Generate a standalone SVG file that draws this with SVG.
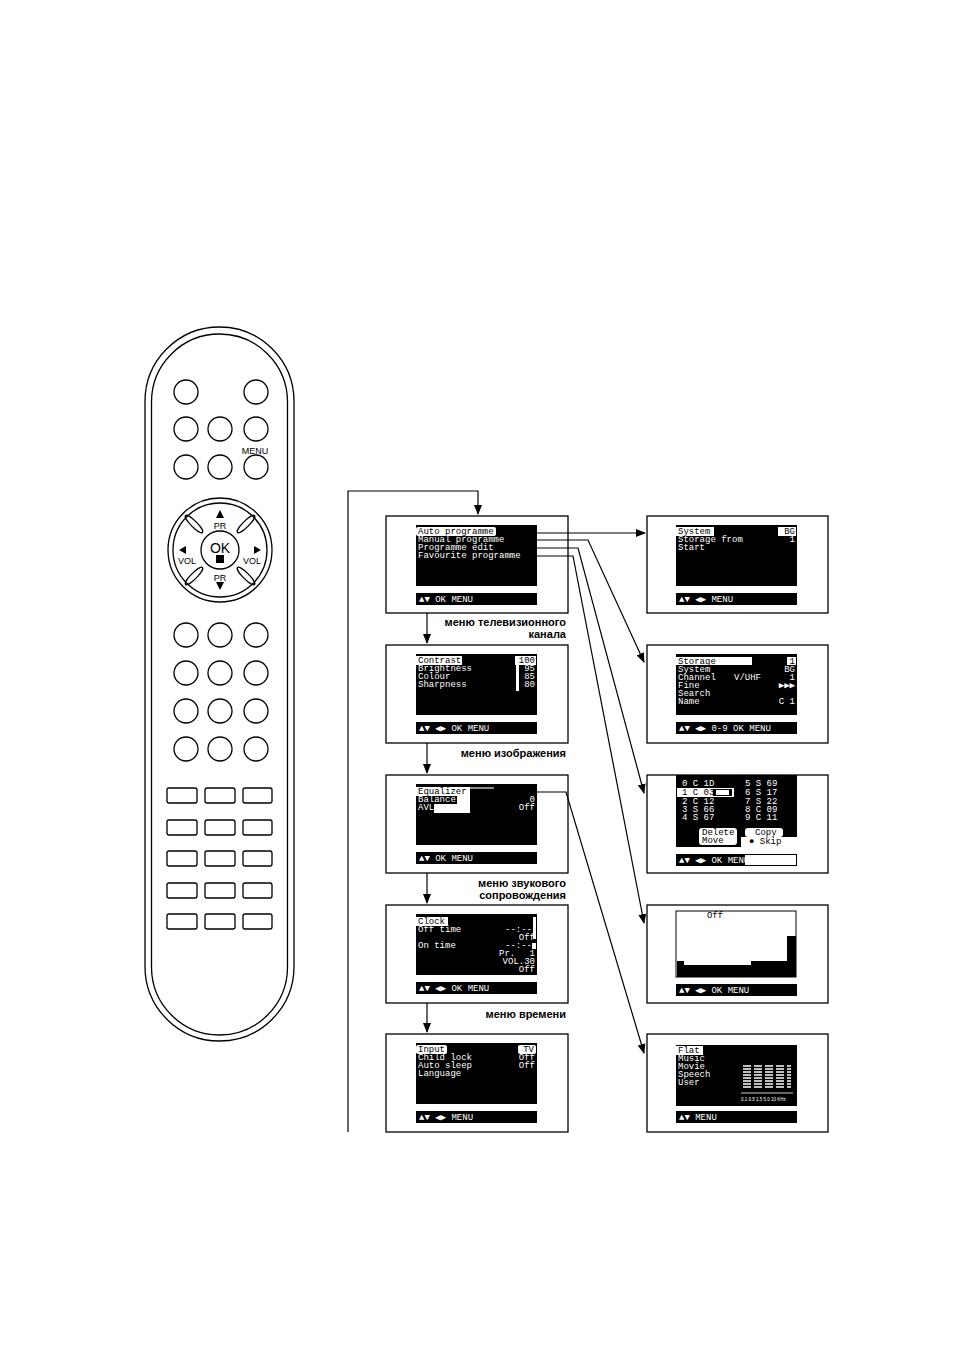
<svg xmlns="http://www.w3.org/2000/svg" width="954" height="1350" viewBox="0 0 954 1350">
<style>
.rm{fill:none;stroke:#000;stroke-width:1.3}
.bx{fill:#fff;stroke:#000;stroke-width:1.3}
.scr{fill:#000}
.t{font-family:"Liberation Mono",monospace;font-size:9px;fill:#fff}
.tb{font-family:"Liberation Mono",monospace;font-size:9px;fill:#000}
.r{text-anchor:end}
.lab{font-family:"Liberation Sans",Arial,sans-serif;font-size:11px;font-weight:bold;fill:#000;text-anchor:end}
.rl{font-family:"Liberation Sans",Arial,sans-serif;font-size:9px;fill:#000;text-anchor:middle}
.ln{fill:none;stroke:#000;stroke-width:1.2}
</style>
<defs>
<marker id="ah" markerWidth="10" markerHeight="8" refX="9" refY="4" orient="auto" markerUnits="userSpaceOnUse"><path d="M0,0 L10,4 L0,8 Z" fill="#000"/></marker>
</defs>
<rect width="954" height="1350" fill="#fff"/>
<g id="remote">
<rect class="rm" x="145" y="327" width="149" height="714" rx="74.5"/>
<rect class="rm" x="151.5" y="334" width="136" height="701" rx="68"/>
<g class="rm">
<circle cx="186" cy="392" r="12"/><circle cx="256" cy="392" r="12"/>
<circle cx="186" cy="429" r="12"/><circle cx="220" cy="429" r="12"/><circle cx="256" cy="429" r="12"/>
<circle cx="186" cy="467" r="12"/><circle cx="220" cy="467" r="12"/><circle cx="256" cy="467" r="12"/>
<circle cx="220" cy="550" r="52"/><circle cx="220" cy="550" r="47"/><circle cx="220" cy="550" r="19"/>
<ellipse cx="194" cy="524" rx="3" ry="12" transform="rotate(-45 194 524)"/>
<ellipse cx="246" cy="524" rx="3" ry="12" transform="rotate(45 246 524)"/>
<ellipse cx="194" cy="576" rx="3" ry="12" transform="rotate(45 194 576)"/>
<ellipse cx="246" cy="576" rx="3" ry="12" transform="rotate(-45 246 576)"/>
<circle cx="186" cy="635" r="12"/><circle cx="220" cy="635" r="12"/><circle cx="256" cy="635" r="12"/>
<circle cx="186" cy="673" r="12"/><circle cx="220" cy="673" r="12"/><circle cx="256" cy="673" r="12"/>
<circle cx="186" cy="711" r="12"/><circle cx="220" cy="711" r="12"/><circle cx="256" cy="711" r="12"/>
<circle cx="186" cy="749" r="12"/><circle cx="220" cy="749" r="12"/><circle cx="256" cy="749" r="12"/>
<rect x="167" y="788" width="30" height="15" rx="2"/><rect x="205" y="788" width="30" height="15" rx="2"/><rect x="243" y="788" width="29" height="15" rx="2"/>
<rect x="167" y="820" width="30" height="15" rx="2"/><rect x="205" y="820" width="30" height="15" rx="2"/><rect x="243" y="820" width="29" height="15" rx="2"/>
<rect x="167" y="851" width="30" height="15" rx="2"/><rect x="205" y="851" width="30" height="15" rx="2"/><rect x="243" y="851" width="29" height="15" rx="2"/>
<rect x="167" y="883" width="30" height="15" rx="2"/><rect x="205" y="883" width="30" height="15" rx="2"/><rect x="243" y="883" width="29" height="15" rx="2"/>
<rect x="167" y="914" width="30" height="15" rx="2"/><rect x="205" y="914" width="30" height="15" rx="2"/><rect x="243" y="914" width="29" height="15" rx="2"/>
</g>
<text class="rl" x="255" y="454">MENU</text>
<path d="M216,518 L224,518 L220,510 Z M216,582 L224,582 L220,590 Z M186,546 L186,554 L179,550 Z M254,546 L254,554 L261,550 Z" fill="#000"/>
<rect x="216" y="555" width="8" height="8" fill="#000"/>
<text class="rl" x="220" y="529">PR</text>
<text class="rl" x="220" y="581">PR</text>
<text class="rl" x="187" y="564">VOL</text>
<text class="rl" x="252" y="564">VOL</text>
<text x="220" y="553" font-family="Liberation Sans,Arial,sans-serif" font-size="14" text-anchor="middle">OK</text>
</g>

<g id="labels">
<text class="lab" x="566" y="626">меню телевизионного</text>
<text class="lab" x="566" y="638">канала</text>
<text class="lab" x="566" y="757">меню изображения</text>
<text class="lab" x="566" y="887">меню звукового</text>
<text class="lab" x="566" y="899">сопровождения</text>
<text class="lab" x="566" y="1018">меню времени</text>
</g>

<g id="s-tv" transform="translate(386,516)">
<rect class="bx" width="182" height="97"/><rect class="scr" x="30" y="9" width="121" height="61"/><rect class="scr" x="30" y="77" width="121" height="12"/>
<rect x="30" y="11" width="80" height="9" fill="#fff" rx="2"/>
<text class="tb" x="32" y="18">Auto programme</text>
<text class="t" x="32" y="26">Manual programme</text>
<text class="t" x="32" y="34">Programme edit</text>
<text class="t" x="32" y="42">Favourite programme</text>
<text class="t" x="33" y="86">▲▼ OK MENU</text>
</g>
<g id="s-pic" transform="translate(386,645)">
<rect class="bx" width="182" height="98"/><rect class="scr" x="30" y="9" width="121" height="61"/><rect class="scr" x="30" y="77" width="121" height="12"/>
<rect x="30" y="11" width="46" height="9" fill="#fff"/><rect x="129" y="11" width="21" height="9" fill="#fff"/><rect x="130" y="20" width="3" height="26" fill="#fff"/>
<text class="tb" x="32" y="18">Contrast</text><text class="tb r" x="149" y="18">100</text>
<text class="t" x="32" y="26">Brightness</text><text class="t r" x="149" y="26">95</text>
<text class="t" x="32" y="34">Colour</text><text class="t r" x="149" y="34">85</text>
<text class="t" x="32" y="42">Sharpness</text><text class="t r" x="149" y="42">80</text>
<text class="t" x="33" y="86">▲▼ ◀▶ OK MENU</text>
</g>
<g id="s-snd" transform="translate(386,775)">
<rect class="bx" width="182" height="98"/><rect class="scr" x="30" y="9" width="121" height="61"/><rect class="scr" x="30" y="77" width="121" height="12"/>
<rect x="30" y="12" width="54" height="9" fill="#fff"/><rect x="84" y="12" width="24" height="2" fill="#888"/><rect x="48" y="21" width="36" height="17" fill="#fff"/>
<rect x="31" y="21" width="40" height="8" fill="#000"/>
<text class="tb" x="32" y="19">Equalizer</text>
<text class="t" x="32" y="27">Balance</text><text class="t r" x="149" y="27">0</text>
<text class="t" x="32" y="35">AVL</text><text class="t r" x="149" y="35">Off</text>
<text class="t" x="33" y="86">▲▼ OK MENU</text>
</g>
<g id="s-time" transform="translate(386,905)">
<rect class="bx" width="182" height="98"/><rect class="scr" x="30" y="9" width="121" height="61"/><rect class="scr" x="30" y="77" width="121" height="12"/>
<rect x="30" y="12" width="32" height="9" fill="#fff"/><rect x="147" y="12" width="3" height="22" fill="#fff"/><rect x="146" y="38" width="4" height="6" fill="#fff"/>
<text class="tb" x="32" y="19">Clock</text>
<text class="t" x="32" y="27">Off time</text><text class="t r" x="146" y="27">--:--</text>
<text class="t r" x="149" y="35">Off</text>
<text class="t" x="32" y="43">On time</text><text class="t r" x="146" y="43">--:--</text>
<text class="t" x="113" y="51">Pr.</text><text class="t r" x="149" y="51">1</text>
<text class="t r" x="149" y="59">VOL.30</text>
<text class="t r" x="149" y="67">Off</text>
<text class="t" x="33" y="86">▲▼ ◀▶ OK MENU</text>
</g>
<g id="s-opt" transform="translate(386,1034)">
<rect class="bx" width="182" height="98"/><rect class="scr" x="30" y="9" width="121" height="61"/><rect class="scr" x="30" y="77" width="121" height="12"/>
<rect x="30" y="11" width="31" height="9" fill="#fff" rx="2"/><rect x="132" y="11" width="18" height="9" fill="#fff" rx="2"/>
<text class="tb" x="32" y="18">Input</text><text class="tb r" x="148" y="18">TV</text>
<text class="t" x="32" y="26">Child lock</text><text class="t r" x="149" y="26">Off</text>
<text class="t" x="32" y="34">Auto sleep</text><text class="t r" x="149" y="34">Off</text>
<text class="t" x="32" y="42">Language</text>
<text class="t" x="33" y="86">▲▼ ◀▶ MENU</text>
</g>

<g id="s-auto" transform="translate(647,516)">
<rect class="bx" width="181" height="97"/><rect class="scr" x="29" y="9" width="121" height="61"/><rect class="scr" x="29" y="77" width="121" height="12"/>
<rect x="29" y="11" width="38" height="9" fill="#fff"/><rect x="131" y="11" width="18" height="9" fill="#fff"/>
<text class="tb" x="31" y="18">System</text><text class="tb r" x="148" y="18">BG</text>
<text class="t" x="31" y="26">Storage from</text><text class="t r" x="148" y="26">1</text>
<text class="t" x="31" y="34">Start</text>
<text class="t" x="32" y="86">▲▼ ◀▶ MENU</text>
</g>
<g id="s-manual" transform="translate(647,645)">
<rect class="bx" width="181" height="98"/><rect class="scr" x="29" y="9" width="121" height="61"/><rect class="scr" x="29" y="77" width="121" height="12"/>
<rect x="29" y="12" width="76" height="8" fill="#fff"/><rect x="140" y="12" width="9" height="8" fill="#fff"/>
<text class="tb" x="31" y="19">Storage</text><text class="tb r" x="148" y="19">1</text>
<text class="t" x="31" y="27">System</text><text class="t r" x="148" y="27">BG</text>
<text class="t" x="31" y="35">Channel</text><text class="t" x="87" y="35">V/UHF</text><text class="t r" x="148" y="35">1</text>
<text class="t" x="31" y="43">Fine</text><text class="t r" x="148" y="43">▶▶▶</text>
<text class="t" x="31" y="51">Search</text>
<text class="t" x="31" y="59">Name</text><text class="t r" x="148" y="59">C  1</text>
<text class="t" x="32" y="86">▲▼ ◀▶ 0-9 OK MENU</text>
</g>
<g id="s-edit" transform="translate(647,775)">
<rect class="bx" width="181" height="98"/><rect class="scr" x="29" y="0" width="121" height="72"/><rect class="scr" x="29" y="79" width="121" height="12"/>
<rect x="30" y="13" width="57" height="9" fill="#fff"/><rect x="66" y="14" width="19" height="7" fill="#000"/><rect x="69" y="15" width="13" height="5" fill="#fff"/>
<rect x="52" y="53" width="38" height="17" fill="#fff" rx="3"/><rect x="98" y="53" width="38" height="9" fill="#fff" rx="3"/><rect x="94" y="62" width="56" height="10" fill="#fff"/>
<rect x="98" y="80" width="51" height="10" fill="#fff"/>
<g class="t"><text x="35" y="11">0   C   1D</text><text x="98" y="11">5   S   69</text>
<text x="98" y="20">6   S   17</text>
<text x="35" y="29">2   C   12</text><text x="98" y="29">7   S   22</text>
<text x="35" y="37">3   S   66</text><text x="98" y="37">8   C   09</text>
<text x="35" y="45">4   S   67</text><text x="98" y="45">9   C   11</text></g>
<text class="tb" x="35" y="20">1   C   03</text>
<text class="tb" x="55" y="60">Delete</text><text class="tb" x="55" y="68">Move</text>
<text class="tb" x="108" y="60">Copy</text><text class="tb" x="102" y="69">● Skip</text>
<text class="t" x="32" y="88">▲▼ ◀▶ OK MENU</text>
</g>
<g id="s-fav" transform="translate(647,905)">
<rect class="bx" width="181" height="98"/><rect fill="#fff" stroke="#000" x="29" y="6" width="120" height="66"/>
<path d="M30,56 H37 V60 H104 V56 H140 V31 H149 V72 H30 Z" fill="#000"/>
<rect class="scr" x="29" y="79" width="121" height="12"/>
<text class="tb" x="60" y="13">Off</text>
<text class="t" x="32" y="88">▲▼ ◀▶ OK MENU</text>
</g>
<g id="s-eq" transform="translate(647,1034)">
<rect class="bx" width="181" height="98"/><rect class="scr" x="29" y="11" width="121" height="61"/><rect class="scr" x="29" y="77" width="121" height="12"/>
<rect x="29" y="12" width="27" height="9" fill="#fff"/>
<text class="tb" x="31" y="19">Flat</text>
<text class="t" x="31" y="27">Music</text><text class="t" x="31" y="35">Movie</text><text class="t" x="31" y="43">Speech</text><text class="t" x="31" y="51">User</text>
<g stroke="#fff" stroke-width="1.3">
<path d="M96,32h8M96,35h8M96,38h8M96,41h8M96,44h8M96,47h8M96,50h8M96,53h8"/>
<path d="M107,32h8M107,35h8M107,38h8M107,41h8M107,44h8M107,47h8M107,50h8M107,53h8"/>
<path d="M118,32h8M118,35h8M118,38h8M118,41h8M118,44h8M118,47h8M118,50h8M118,53h8"/>
<path d="M129,32h8M129,35h8M129,38h8M129,41h8M129,44h8M129,47h8M129,50h8M129,53h8"/>
<path d="M140,32h4M140,35h4M140,38h4M140,41h4M140,44h4M140,47h4M140,50h4M140,53h4"/>
<path d="M94,59h52" stroke-width="0.8"/>
</g>
<text x="94" y="67" font-family="Liberation Sans,Arial,sans-serif" font-size="4.5" fill="#fff">0.1 0.5 1.5 5.0 10 KHz</text>
<text class="t" x="32" y="86">▲▼ MENU</text>
</g>

<g id="connectors">
<path class="ln" d="M348,1132 V491 H478 V514" marker-end="url(#ah)"/>
<path class="ln" d="M427,613 V643" marker-end="url(#ah)"/>
<path class="ln" d="M427,743 V773" marker-end="url(#ah)"/>
<path class="ln" d="M427,873 V903" marker-end="url(#ah)"/>
<path class="ln" d="M427,1003 V1032" marker-end="url(#ah)"/>
<path class="ln" d="M537,533 H645" marker-end="url(#ah)"/>
<path class="ln" d="M537,540 H588 L644,662" marker-end="url(#ah)"/>
<path class="ln" d="M537,548 H578 L644,793" marker-end="url(#ah)"/>
<path class="ln" d="M537,556 H573 L644,923" marker-end="url(#ah)"/>
<path class="ln" d="M537,792 H566 L644,1053" marker-end="url(#ah)"/>
</g>
</svg>
